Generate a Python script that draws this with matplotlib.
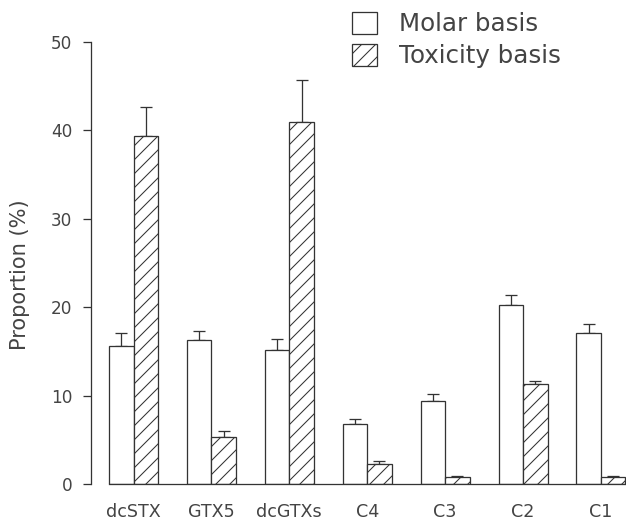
import numpy as np
import matplotlib
matplotlib.use("Agg")
import matplotlib.pyplot as plt

# toxin profile, proportions in percent
toxins = ["dcSTX", "GTX5", "dcGTXs", "C4", "C3", "C2", "C1"]
molar = [15.6, 16.3, 15.2, 6.8, 9.4, 20.3, 17.1]
molar_err = [1.5, 1.05, 1.25, 0.55, 0.75, 1.1, 1.0]
toxicity = [39.4, 5.35, 40.9, 2.3, 0.8, 11.3, 0.8]
toxicity_err = [3.2, 0.65, 4.75, 0.3, 0.15, 0.35, 0.15]
yticks = [0, 10, 20, 30, 40, 50]

ink = "#333333"
txt = "#444444"
plt.rcParams["font.family"] = "DejaVu Sans"
plt.rcParams["hatch.linewidth"] = 0.9
plt.rcParams["hatch.color"] = ink

fig = plt.figure(figsize=(626 / 84, 522 / 84), dpi=84)
ax = fig.add_axes([91 / 626, 1 - 484 / 522, 535 / 626, 442 / 522])

x = np.arange(len(toxins))
w = 0.3145

b1 = ax.bar(x - w / 2, molar, w, color="white", edgecolor=ink, linewidth=1.1,
            label="Molar basis", zorder=2)
b2 = ax.bar(x + w / 2, toxicity, w, color="white", edgecolor=ink, linewidth=1.1,
            hatch="//", label="Toxicity basis", zorder=2)

ax.errorbar(x - w / 2, molar, yerr=[np.zeros(len(x)), molar_err], fmt="none",
            ecolor=ink, elinewidth=1.1, capsize=5, capthick=1.1, zorder=1)
ax.errorbar(x + w / 2, toxicity, yerr=[np.zeros(len(x)), toxicity_err], fmt="none",
            ecolor=ink, elinewidth=1.1, capsize=5, capthick=1.1, zorder=1)

ax.set_xlim(-0.5456, 6.322)
ax.set_ylim(0, 50)
ax.set_yticks(yticks)
ax.set_xticks(x)
ax.set_xticklabels(toxins)

ax.spines["top"].set_visible(False)
ax.spines["right"].set_visible(False)
ax.spines["left"].set_color(ink)
ax.spines["left"].set_linewidth(1.1)
ax.spines["bottom"].set_color(ink)
ax.spines["bottom"].set_linewidth(1.1)
ax.spines["bottom"].set_bounds(x[0] - w, x[-1] + w)

ax.tick_params(axis="y", direction="out", length=7, width=1.1, color=ink,
               pad=9, labelsize=14.5, labelcolor=txt)
ax.tick_params(axis="x", length=0, pad=16, labelsize=15, labelcolor=txt)

ax.set_ylabel("Proportion (%)", fontsize=18, color=txt)
ax.yaxis.set_label_coords(-0.114, 0.473)

fig.legend(handles=[b1, b2], loc="upper left",
           bbox_to_anchor=(352 / 626, 1 - 12 / 522), frameon=False,
           borderpad=0, borderaxespad=0, fontsize=21, handlelength=1.0,
           handleheight=1.0, handletextpad=0.9, labelspacing=0.3,
           labelcolor=txt)

fig.savefig("out.png", dpi=84)
